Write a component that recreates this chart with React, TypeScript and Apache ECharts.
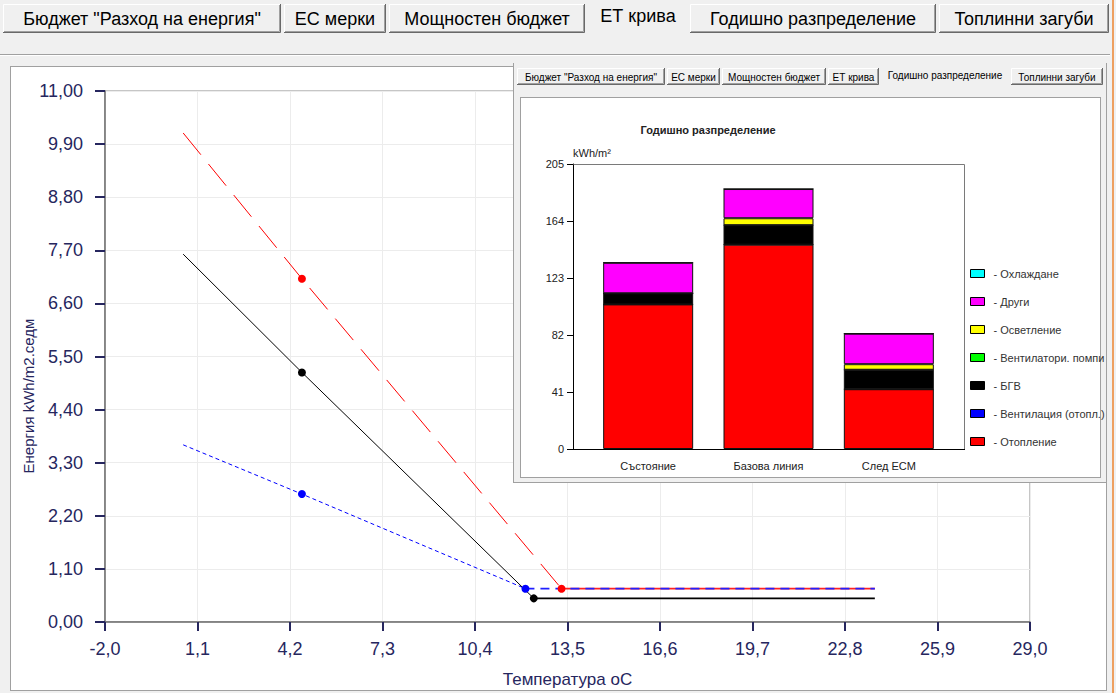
import React, { useEffect, useRef } from "react";
import * as echarts from "echarts";

const FONT = "'Liberation Sans', Arial, sans-serif";
const NAVY = "#26265e";

// ---------- tabs ----------
const tabLabels = [
  'Бюджет "Разход на енергия"',
  "ЕС мерки",
  "Мощностен бюджет",
  "ЕТ крива",
  "Годишно разпределение",
  "Топлинни загуби",
];
const mainActiveTab = 3;
const insetActiveTab = 4;

// ---------- main chart (ET curve) ----------
const xTicks = [-2.0, 1.1, 4.2, 7.3, 10.4, 13.5, 16.6, 19.7, 22.8, 25.9, 29.0];

const redSlopeX = [0.62, 4.6, 13.3];
const redSlopeY = [10.13, 7.11, 0.69];
const redFlatX = [13.3, 23.8];
const redFlatY = [0.69, 0.69];

const blackSlopeX = [0.62, 4.6, 12.37];
const blackSlopeY = [7.62, 5.17, 0.49];
const blackFlatX = [12.37, 23.8];
const blackFlatY = [0.49, 0.49];

const blueSlopeX = [0.62, 4.6, 12.09];
const blueSlopeY = [3.67, 2.65, 0.69];
const blueFlatX = [12.09, 23.8];
const blueFlatY = [0.69, 0.69];

// ---------- inset chart (annual distribution) ----------
const categories = ["Състояние", "Базова линия", "След ЕСМ"];
const heating = [104, 147, 43];
const ventHeating = [0, 0, 0];
const dhw = [8, 14, 14];
const fans = [0, 0, 0];
const lighting = [0, 5, 4];
const other = [22, 21, 22];
const cooling = [0, 0, 0];

const stackSeries = [
  { name: "Отопление", data: heating, color: "#ff0000" },
  { name: "Вентилация (отопл.)", data: ventHeating, color: "#0000ff" },
  { name: "БГВ", data: dhw, color: "#000000" },
  { name: "Вентилатори. помпи", data: fans, color: "#00ff00" },
  { name: "Осветление", data: lighting, color: "#ffff00" },
  { name: "Други", data: other, color: "#ff00ff" },
  { name: "Охлаждане", data: cooling, color: "#00ffff" },
];

// layout (pixel boxes of the tab buttons)
const mainTabBoxes = [
  [3, 281],
  [284, 386],
  [389, 585],
  [588, 688],
  [690, 936],
  [939, 1109],
];
const insetTabBoxes = [
  [4, 152],
  [154, 207],
  [209, 313],
  [315, 366],
  [367, 497],
  [498, 590],
];

function tabGraphics(
  boxes: number[][],
  active: number,
  top: number,
  bottom: number,
  fontSize: number,
  textY: number,
  activeTextY: number
) {
  const els: any[] = [];
  tabLabels.forEach((label, i) => {
    const [x0, x1] = boxes[i];
    const cx = (x0 + x1) / 2;
    if (i !== active) {
      els.push({
        type: "polyline",
        silent: true,
        shape: { points: [[x0 + 0.5, bottom], [x0 + 0.5, top + 0.5], [x1 - 0.5, top + 0.5]] },
        style: { stroke: "#ffffff", fill: "none", lineWidth: 1 },
      });
      els.push({
        type: "polyline",
        silent: true,
        shape: { points: [[x1 - 1.5, top + 1], [x1 - 1.5, bottom - 1.5], [x0 + 1, bottom - 1.5]] },
        style: { stroke: "#a0a0a0", fill: "none", lineWidth: 1 },
      });
      els.push({
        type: "polyline",
        silent: true,
        shape: { points: [[x1 - 0.5, top], [x1 - 0.5, bottom - 0.5], [x0, bottom - 0.5]] },
        style: { stroke: "#696969", fill: "none", lineWidth: 1 },
      });
    }
    els.push({
      type: "text",
      silent: true,
      x: cx,
      y: i === active ? activeTextY : textY,
      style: {
        text: label,
        fontSize,
        fontFamily: FONT,
        fill: "#000000",
        textAlign: "center",
        textVerticalAlign: "middle",
        align: "center",
        verticalAlign: "middle",
      },
    });
  });
  return els;
}

const pts = (xs: number[], ys: number[]) => xs.map((x, i) => [x, ys[i]]);
const withSymbols = (xs: number[], ys: number[]) =>
  pts(xs, ys).map((p, i) => ({ value: p, symbol: i === 0 ? "none" : "circle" }));

const fmtComma = (v: number, d: number) => v.toFixed(d).replace(".", ",");

function buildMainOption() {
  return {
    animation: false,
    textStyle: { fontFamily: FONT },
    graphic: [
      ...tabGraphics(mainTabBoxes, mainActiveTab, 4, 33, 18, 19, 16),
      {
        type: "line",
        silent: true,
        shape: { x1: 0, y1: 54.5, x2: 1110, y2: 54.5 },
        style: { stroke: "#a0a0a0", lineWidth: 1 },
      },
      {
        type: "line",
        silent: true,
        shape: { x1: 0, y1: 55.5, x2: 1110, y2: 55.5 },
        style: { stroke: "#ffffff", lineWidth: 1 },
      },
      {
        type: "text",
        silent: true,
        x: 28,
        y: 396,
        rotation: Math.PI / 2,
        style: {
          text: "Енергия kWh/m2.седм",
          fontSize: 15,
          fontFamily: FONT,
          fill: NAVY,
          textAlign: "center",
          textVerticalAlign: "middle",
          align: "center",
          verticalAlign: "middle",
        },
      },
    ],
    grid: {
      left: 105,
      top: 91,
      width: 925,
      height: 536,
      show: true,
      borderColor: "#8c8c8c",
      borderWidth: 1,
      backgroundColor: "transparent",
    },
    xAxis: {
      type: "value",
      min: -2,
      max: 29,
      name: "Температура оС",
      nameLocation: "middle",
      nameGap: 49,
      nameTextStyle: { fontSize: 17, color: NAVY, fontFamily: FONT },
      axisLine: { show: true, onZero: false, lineStyle: { color: "#6e6e6e", width: 1.5 } },
      axisTick: { show: true, customValues: xTicks, length: 9, lineStyle: { color: NAVY, width: 2 } },
      axisLabel: {
        customValues: xTicks,
        formatter: (v: number) => fmtComma(v, 1),
        fontSize: 18,
        color: NAVY,
        margin: 18,
        fontFamily: FONT,
      },
      splitLine: { show: true, lineStyle: { color: "#ececec", width: 1 } },
    },
    yAxis: {
      type: "value",
      min: 0,
      max: 11,
      interval: 1.1,
      axisLine: { show: true, onZero: false, lineStyle: { color: "#6e6e6e", width: 1.5 } },
      axisTick: { show: true, length: 10, lineStyle: { color: NAVY, width: 2 } },
      axisLabel: {
        formatter: (v: number) => fmtComma(v, 2),
        fontSize: 18,
        color: NAVY,
        margin: 22,
        fontFamily: FONT,
      },
      splitLine: { show: true, lineStyle: { color: "#ececec", width: 1 } },
    },
    series: [
      {
        type: "line",
        silent: true,
        z: 2,
        data: pts(blackFlatX, blackFlatY),
        symbol: "none",
        lineStyle: { color: "#000000", width: 1.8 },
      },
      {
        type: "line",
        silent: true,
        z: 2,
        data: pts(redFlatX, redFlatY),
        symbol: "none",
        lineStyle: { color: "#ff2020", width: 1.8 },
      },
      {
        type: "line",
        silent: true,
        z: 2,
        data: pts(blueFlatX, blueFlatY),
        symbol: "none",
        lineStyle: { color: "#2020ff", width: 1.8, type: [9, 6] },
      },
      {
        type: "line",
        silent: true,
        z: 3,
        data: withSymbols(redSlopeX, redSlopeY),
        symbolSize: 8,
        showSymbol: true,
        lineStyle: { color: "#ff0000", width: 1, type: [28, 12] },
        itemStyle: { color: "#ff0000" },
      },
      {
        type: "line",
        silent: true,
        z: 3,
        data: withSymbols(blueSlopeX, blueSlopeY),
        symbolSize: 8,
        showSymbol: true,
        lineStyle: { color: "#0000ff", width: 1, type: [4, 3] },
        itemStyle: { color: "#0000ff" },
      },
      {
        type: "line",
        silent: true,
        z: 3,
        data: withSymbols(blackSlopeX, blackSlopeY),
        symbolSize: 8,
        showSymbol: true,
        lineStyle: { color: "#000000", width: 1 },
        itemStyle: { color: "#000000" },
      },
    ],
  };
}

// inset plot frame (chart-div pixels)
const FRAME = { left: 60, right: 451, top: 101, bottom: 386 };

function buildInsetOption() {
  const legendOrder = stackSeries.map((s) => s.name).reverse();
  return {
    animation: false,
    textStyle: { fontFamily: FONT },
    graphic: [
      ...tabGraphics(insetTabBoxes, insetActiveTab, 5, 22, 10, 14, 12),
      {
        type: "polyline",
        silent: true,
        z: 1,
        shape: {
          points: [
            [FRAME.left + 0.5, FRAME.top + 0.5],
            [FRAME.right + 0.5, FRAME.top + 0.5],
            [FRAME.right + 0.5, FRAME.bottom + 0.5],
          ],
        },
        style: { stroke: "#7a7a7a", fill: "none", lineWidth: 1 },
      },
      {
        type: "line",
        silent: true,
        z: 1,
        shape: { x1: FRAME.left, y1: FRAME.bottom + 0.5, x2: FRAME.right + 1, y2: FRAME.bottom + 0.5 },
        style: { stroke: "#000000", lineWidth: 1 },
      },
    ],
    title: {
      text: "Годишно разпределение",
      left: 190,
      top: 56,
      textAlign: "center",
      textStyle: { fontSize: 11, fontWeight: "bold", color: "#222222", fontFamily: FONT },
    },
    grid: {
      left: FRAME.left + 15,
      top: FRAME.top,
      width: FRAME.right - FRAME.left - 30,
      height: FRAME.bottom - FRAME.top,
      show: false,
    },
    legend: {
      orient: "vertical",
      left: 457,
      top: 205,
      padding: 0,
      itemWidth: 14,
      itemHeight: 8,
      itemGap: 17,
      icon: "rect",
      selectedMode: false,
      data: legendOrder,
      formatter: (n: string) => "- " + n,
      itemStyle: { borderColor: "#000000", borderWidth: 1 },
      textStyle: { fontSize: 11, color: "#333333", fontFamily: FONT, padding: [0, 0, 0, 4] },
    },
    xAxis: {
      type: "category",
      data: categories,
      axisLine: { show: false },
      axisTick: { show: false },
      axisLabel: { fontSize: 11, color: "#222222", margin: 11, fontFamily: FONT },
    },
    yAxis: {
      type: "value",
      min: 0,
      max: 205,
      interval: 41,
      offset: 15,
      name: "kWh/m²",
      nameLocation: "end",
      nameGap: 6,
      nameTextStyle: { align: "left", fontSize: 11, color: "#222222", fontFamily: FONT },
      axisLine: { show: true, onZero: false, lineStyle: { color: "#000000", width: 1 } },
      axisTick: { show: true, length: 6, lineStyle: { color: "#000000" } },
      axisLabel: { fontSize: 11, color: "#222222", margin: 9, fontFamily: FONT },
      splitLine: { show: false },
    },
    series: stackSeries.map((s) => ({
      type: "bar",
      name: s.name,
      stack: "total",
      silent: true,
      barWidth: 90,
      data: s.data,
      itemStyle: { color: s.color, borderColor: "#111111", borderWidth: 1 },
    })),
  };
}

export default function App() {
  const mainRef = useRef<HTMLDivElement>(null);
  const insetRef = useRef<HTMLDivElement>(null);

  useEffect(() => {
    const main = echarts.init(mainRef.current!, undefined, { renderer: "svg" });
    main.setOption(buildMainOption() as any);
    const inset = echarts.init(insetRef.current!, undefined, { renderer: "svg" });
    inset.setOption(buildInsetOption() as any);
    return () => {
      main.dispose();
      inset.dispose();
    };
  }, []);

  return (
    <div
      style={{
        position: "absolute",
        left: 0,
        top: 0,
        width: 1116,
        height: 693,
        background: "#f0f0f0",
        overflow: "hidden",
      }}
    >
      <div
        style={{
          position: "absolute",
          left: 10,
          top: 66,
          width: 1097,
          height: 625,
          boxSizing: "border-box",
          background: "#ffffff",
          border: "1px solid #a0a0a0",
        }}
      />
      <div
        style={{
          position: "absolute",
          left: 1112,
          top: 0,
          width: 2,
          height: 693,
          background: "#eea060",
        }}
      />
      <div ref={mainRef} style={{ position: "absolute", left: 0, top: 0, width: 1116, height: 693 }} />
      <div
        style={{
          position: "absolute",
          left: 513,
          top: 63,
          width: 594,
          height: 420,
          boxSizing: "border-box",
          background: "#f0f0f0",
          borderLeft: "1px solid #a0a0a0",
          borderRight: "1px solid #a0a0a0",
          borderBottom: "1px solid #a0a0a0",
        }}
      >
        <div
          style={{
            position: "absolute",
            left: 6,
            top: 34,
            width: 581,
            height: 381,
            boxSizing: "border-box",
            background: "#ffffff",
            border: "1px solid #a0a0a0",
          }}
        />
        <div ref={insetRef} style={{ position: "absolute", left: -1, top: 0, width: 594, height: 420 }} />
      </div>
    </div>
  );
}
